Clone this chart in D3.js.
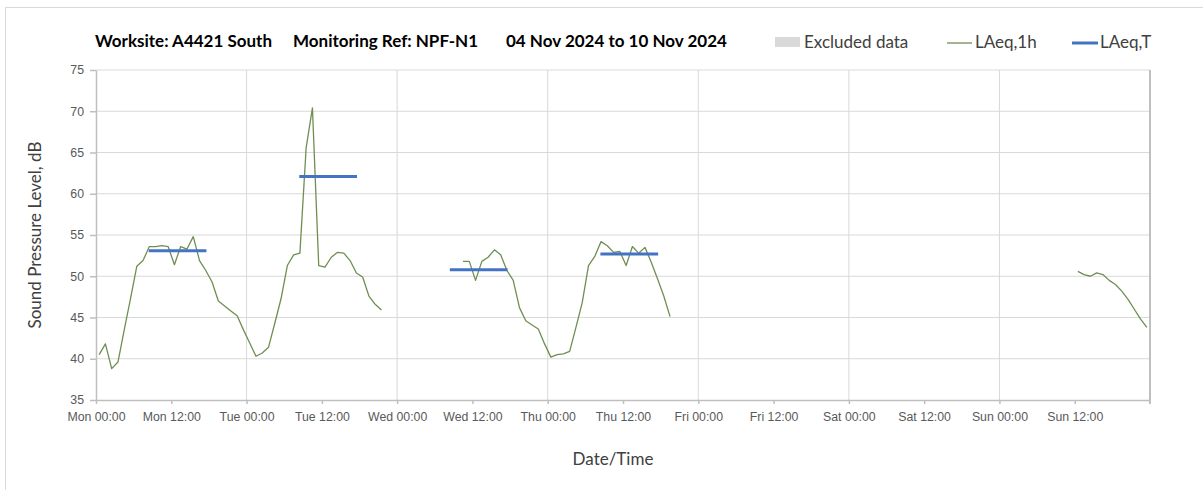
<!DOCTYPE html>
<html>
<head>
<meta charset="utf-8">
<script src="https://cdn.jsdelivr.net/npm/d3@7"></script>
<style>
  body { margin: 0; background: #fff; }
  svg { display: block; font-family: Lato, "Open Sans", sans-serif; }
  .grid line { stroke: #d9d9d9; stroke-width: 1; }
  .axis path, .axis line { stroke: #bfbfbf; stroke-width: 1.5; }
  .axis text { fill: #595959; font-size: 12.3px; }
</style>
</head>
<body>
<div id="chart"></div>
<script>
// x tick labels, every 12 hours from Mon 00:00
const tickLabels = ["Mon 00:00", "Mon 12:00", "Tue 00:00", "Tue 12:00", "Wed 00:00", "Wed 12:00",
  "Thu 00:00", "Thu 12:00", "Fri 00:00", "Fri 12:00", "Sat 00:00", "Sat 12:00", "Sun 00:00", "Sun 12:00"];
const yTicks = [35, 40, 45, 50, 55, 60, 65, 70, 75];

// LAeq,1h values - hourly, each block starts at the given hour of the week
const mondayTuesdayStart = 0;
const mondayTuesday = [40.5, 41.8, 38.8, 39.6, 43.5, 47.3, 51.2, 51.9, 53.6, 53.6, 53.7, 53.6,
  51.4, 53.6, 53.3, 54.8, 51.9, 50.7, 49.3, 47.0, 46.4, 45.8, 45.2, 43.5,
  41.9, 40.3, 40.7, 41.4, 44.3, 47.3, 51.3, 52.6, 52.8, 65.6, 70.4, 51.3,
  51.1, 52.3, 52.9, 52.8, 51.9, 50.4, 49.9, 47.6, 46.6, 45.9];
const wednesdayThursdayStart = 58;
const wednesdayThursday = [51.8, 51.8, 49.5, 51.8, 52.3, 53.2, 52.6, 50.7, 49.5, 46.2, 44.6, 44.1, 43.6, 41.8,
  40.2, 40.5, 40.6, 40.9, 43.8, 46.8, 51.3, 52.4, 54.2, 53.7, 52.9, 53.0,
  51.3, 53.6, 52.8, 53.5, 51.7, 49.7, 47.6, 45.1];
const sundayStart = 156;
const sunday = [50.6, 50.2, 50.0, 50.4, 50.2, 49.5, 49.0, 48.2, 47.2, 46.0, 44.8, 43.8];

// LAeq,T daytime period values per day
const periodDays = [0, 1, 2, 3];
const periodValues = [53.1, 62.1, 50.8, 52.7];
const periodFrom = 8.4, periodTo = 17.6;

const width = 1203, height = 490;
const margin = {top: 70, right: 53, bottom: 90, left: 96};

const svg = d3.select("#chart").append("svg")
  .attr("width", width)
  .attr("height", height);

// outer chart frame
svg.append("rect")
  .attr("x", 5.5).attr("y", 7.5)
  .attr("width", 1220).attr("height", 520)
  .attr("fill", "none").attr("stroke", "#d9d9d9");

const xScale = d3.scaleLinear().domain([0, 168]).range([margin.left, width - margin.right]);
const yScale = d3.scaleLinear().domain([35, 75]).range([height - margin.bottom, margin.top]);

// gridlines
svg.append("g").attr("class", "grid")
  .selectAll("line").data(yTicks.slice(1)).join("line")
    .attr("x1", xScale(0)).attr("x2", xScale(168))
    .attr("y1", d => yScale(d)).attr("y2", d => yScale(d));
svg.append("g").attr("class", "grid")
  .selectAll("line").data(d3.range(24, 168, 24)).join("line")
    .attr("x1", d => xScale(d)).attr("x2", d => xScale(d))
    .attr("y1", yScale(35)).attr("y2", yScale(75));

// right edge of plot
svg.append("line")
  .attr("x1", xScale(168)).attr("x2", xScale(168))
  .attr("y1", yScale(75)).attr("y2", yScale(35) + 4)
  .attr("stroke", "#bfbfbf").attr("stroke-width", 2);

// axes
const xAxis = d3.axisBottom(xScale)
  .tickValues(d3.range(0, 168, 12))
  .tickFormat((d, i) => tickLabels[i])
  .tickSize(4).tickPadding(8).tickSizeOuter(0);
svg.append("g").attr("class", "axis")
  .attr("transform", `translate(0,${yScale(35)})`)
  .call(xAxis);

const yAxis = d3.axisLeft(yScale).tickValues(yTicks).tickSize(6).tickPadding(6).tickSizeOuter(0);
svg.append("g").attr("class", "axis")
  .attr("transform", `translate(${xScale(0)},0)`)
  .call(yAxis);

// LAeq,1h line, one path per block
const blocks = [
  {start: mondayTuesdayStart, values: mondayTuesday},
  {start: wednesdayThursdayStart, values: wednesdayThursday},
  {start: sundayStart, values: sunday}
];
const line = d3.line()
  .x(d => xScale(d.hour + 0.5))
  .y(d => yScale(d.value));
svg.append("g")
  .selectAll("path")
  .data(blocks.map(b => b.values.map((v, i) => ({hour: b.start + i, value: v}))))
  .join("path")
    .attr("d", line)
    .attr("fill", "none")
    .attr("stroke", "#6f8f52")
    .attr("stroke-width", 1.3)
    .attr("stroke-linejoin", "round");

// LAeq,T bars
svg.append("g")
  .selectAll("line")
  .data(periodDays.map((d, i) => ({day: d, value: periodValues[i]})))
  .join("line")
    .attr("x1", d => xScale(d.day * 24 + periodFrom))
    .attr("x2", d => xScale(d.day * 24 + periodTo))
    .attr("y1", d => yScale(d.value))
    .attr("y2", d => yScale(d.value))
    .attr("stroke", "#4472c4")
    .attr("stroke-width", 3);

// title
const title = svg.append("g")
  .attr("font-size", 17).attr("font-weight", "bold").attr("fill", "#000");
title.append("text").attr("x", 95).attr("y", 47).text("Worksite: A4421 South");
title.append("text").attr("x", 293).attr("y", 47).text("Monitoring Ref: NPF-N1");
title.append("text").attr("x", 506).attr("y", 47).text("04 Nov 2024 to 10 Nov 2024");

// legend
const legend = svg.append("g").attr("font-size", 17).attr("fill", "#404040");
legend.append("rect").attr("x", 775).attr("y", 37).attr("width", 25).attr("height", 10).attr("fill", "#d9d9d9");
legend.append("text").attr("x", 804).attr("y", 48).text("Excluded data");
legend.append("line").attr("x1", 947).attr("x2", 972).attr("y1", 43).attr("y2", 43)
  .attr("stroke", "#6f8f52").attr("stroke-width", 1.3);
legend.append("text").attr("x", 975).attr("y", 48).text("LAeq,1h");
legend.append("line").attr("x1", 1072).attr("x2", 1098).attr("y1", 43).attr("y2", 43)
  .attr("stroke", "#4472c4").attr("stroke-width", 3);
legend.append("text").attr("x", 1100).attr("y", 48).text("LAeq,T");

// axis titles
svg.append("text")
  .attr("text-anchor", "middle")
  .attr("transform", `translate(41,${yScale(55)}) rotate(-90)`)
  .attr("font-size", 17).attr("fill", "#404040")
  .text("Sound Pressure Level, dB");
svg.append("text")
  .attr("text-anchor", "middle")
  .attr("x", 613).attr("y", 465)
  .attr("font-size", 17).attr("fill", "#404040")
  .text("Date/Time");
</script>
</body>
</html>
